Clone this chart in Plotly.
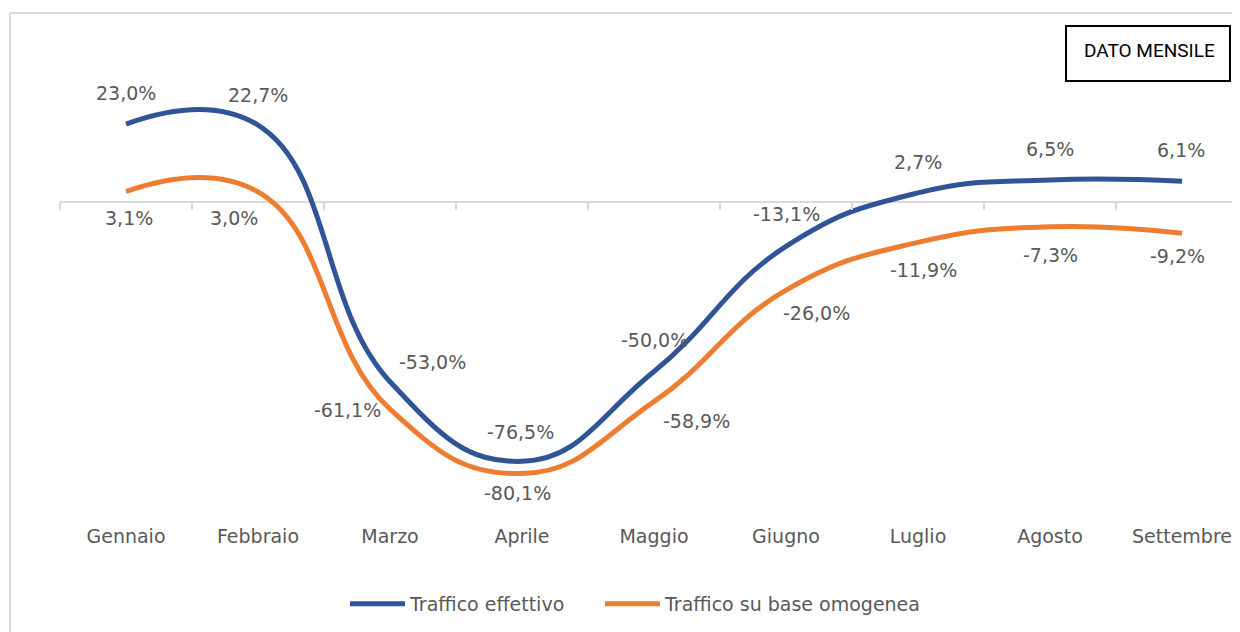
import plotly.graph_objects as go

months = ["Gennaio", "Febbraio", "Marzo", "Aprile", "Maggio", "Giugno", "Luglio", "Agosto", "Settembre"]
traffico_effettivo = [23.0, 22.7, -53.0, -76.5, -50.0, -13.1, 2.7, 6.5, 6.1]
traffico_omogeneo = [3.1, 3.0, -61.1, -80.1, -58.9, -26.0, -11.9, -7.3, -9.2]
series_names = ["Traffico effettivo", "Traffico su base omogenea"]

# label offsets in pixels (dx right, dy up)
blue_dx = [0, 0, 42, -2, 0, 0, 0, 0, -1]
blue_dy = [31, 30, 20, 29, 32, 32, 31, 31, 31]
orange_dx = [3, -24, -43, -5, 42, 30, 5, 0, -5]
orange_dy = [-27, -26, -1, -19, -19, -23, -28, -28, -23]

BLUE = "#2F5597"
ORANGE = "#ED7D31"
GRAY = "#595959"
AXIS = "#D9D9D9"
FONT = "DejaVu Sans"
BOXFONT = "Liberation Sans Narrow, Roboto, sans-serif"

OFF = 8  # page body margin
W, H = 1240, 632 - OFF
# screen-pixel targets
PLOT_L, PLOT_T, PLOT_B = 60, 40, 520
ML, MR, MT, MB = PLOT_L - OFF, 0, PLOT_T - OFF, H - (PLOT_B - OFF)
PW, PH = W - ML - MR, H - MT - MB
ZERO_PX = 202
PPU = 3.39
y_top = (ZERO_PX - PLOT_T) / PPU
y_bot = -(PLOT_B - ZERO_PX) / PPU
step = 132
x_lo = -0.5
x_hi = x_lo + PW / step


def px_x(px):
    return (px - PLOT_L) / PW


def px_y(py):
    return (PLOT_B - py) / PH


def fmt(v):
    return f"{v:.1f}%".replace(".", ",")


xs = list(range(len(months)))

fig = go.Figure()
for name, vals, col, lg in [(series_names[0], traffico_effettivo, BLUE, "legend"),
                            (series_names[1], traffico_omogeneo, ORANGE, "legend2")]:
    fig.add_trace(go.Scatter(x=xs, y=vals, name=name, mode="lines", legend=lg,
                             line=dict(color=col, width=5, shape="spline", smoothing=1.3),
                             hoverinfo="skip"))
# empty trace so the zero-line tick axis is rendered
fig.add_trace(go.Scatter(x=[], y=[], xaxis="x2", yaxis="y", showlegend=False, hoverinfo="skip"))

annotations = []
for vals, dxs, dys in [(traffico_effettivo, blue_dx, blue_dy), (traffico_omogeneo, orange_dx, orange_dy)]:
    for i, v in enumerate(vals):
        annotations.append(dict(x=xs[i], y=v, xref="x", yref="y", text=fmt(v), showarrow=False,
                                xanchor="center", yanchor="middle",
                                xshift=dxs[i], yshift=dys[i],
                                font=dict(family=FONT, size=19, color=GRAY)))

annotations.append(dict(x=px_x(1149), y=px_y(50), xref="paper", yref="paper", text="DATO MENSILE",
                        xanchor="center", yanchor="middle", showarrow=False,
                        font=dict(family=BOXFONT, size=19, color="#000000")))

shapes = [
    dict(type="rect", xref="paper", yref="paper", x0=px_x(1066), x1=px_x(1230), y0=px_y(81), y1=px_y(26),
         line=dict(color="#000000", width=2), fillcolor="white", layer="above"),
    dict(type="line", xref="paper", yref="paper", x0=px_x(10), x1=px_x(1260), y0=px_y(13), y1=px_y(13),
         line=dict(color=AXIS, width=2)),
    dict(type="line", xref="paper", yref="paper", x0=px_x(10), x1=px_x(10), y0=px_y(13), y1=px_y(660),
         line=dict(color=AXIS, width=2)),
]

legend_style = dict(orientation="h", xanchor="left", y=px_y(604), yanchor="middle", itemwidth=55,
                    font=dict(family=FONT, size=19, color=GRAY), bgcolor="rgba(0,0,0,0)")

fig.update_layout(
    width=W, height=H,
    margin=dict(l=ML, r=MR, t=MT, b=MB),
    paper_bgcolor="white", plot_bgcolor="white",
    showlegend=True,
    legend=dict(x=px_x(345), **legend_style),
    legend2=dict(x=px_x(600), **legend_style),
    xaxis=dict(range=[x_lo, x_hi], tickmode="array", tickvals=xs, ticktext=months,
               showgrid=False, showline=False, zeroline=False, ticks="", ticklabelstandoff=3,
               tickfont=dict(family=FONT, size=19, color=GRAY)),
    xaxis2=dict(range=[x_lo, x_hi], overlaying="x", anchor="free", position=-y_bot / (y_top - y_bot),
                side="bottom", tickmode="array", tickvals=[i - 0.5 for i in xs],
                ticks="outside", ticklen=7, tickwidth=2, tickcolor=AXIS,
                showticklabels=False, showgrid=False, showline=False, zeroline=False),
    yaxis=dict(range=[y_bot, y_top], showticklabels=False, showgrid=False,
               zeroline=True, zerolinecolor=AXIS, zerolinewidth=2),
    annotations=annotations,
    shapes=shapes,
)

fig.write_html("out.html")
